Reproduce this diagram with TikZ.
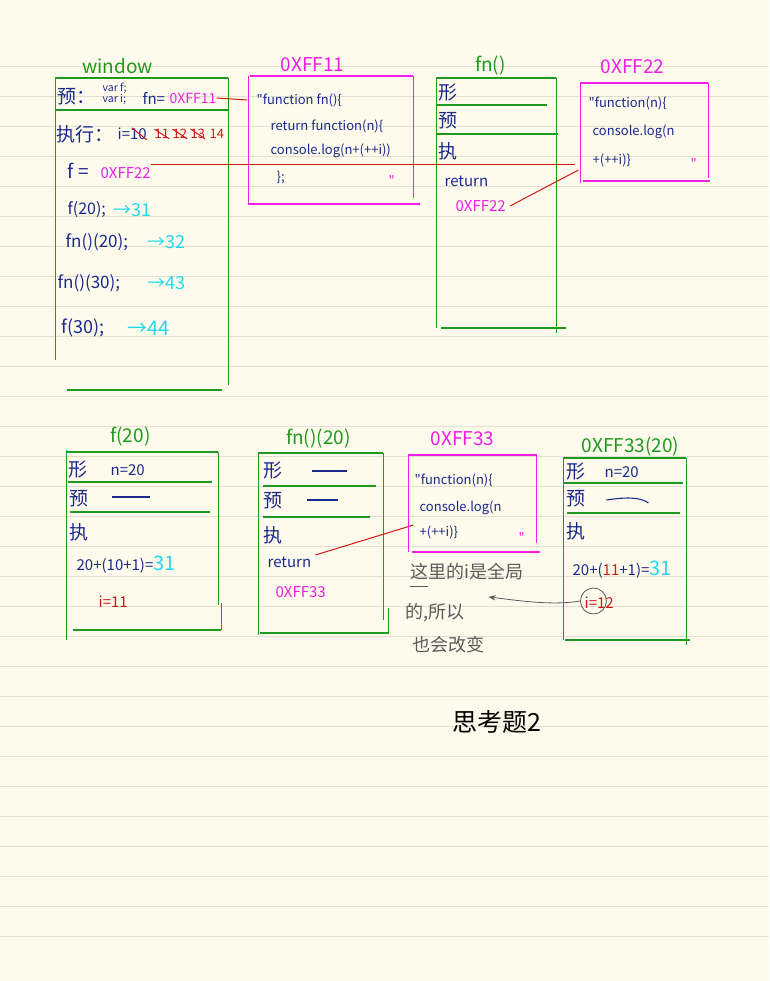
\documentclass[tikz,border=0pt]{standalone}
\usepackage{fontspec}
\setmainfont{Noto Sans CJK SC}[Ligatures=TeXOff]
\usepackage{tikz}
\usetikzlibrary{arrows.meta}
\definecolor{paper}{HTML}{FEFBEC}
\definecolor{rulecolor}{HTML}{E2DFD0}
\definecolor{inkblue}{HTML}{1A2A8C}
\definecolor{framegreen}{HTML}{1E9A1E}
\definecolor{heapmagenta}{HTML}{F01EE6}
\definecolor{linkred}{HTML}{D01818}
\definecolor{resultcyan}{HTML}{22D8EE}
\definecolor{notegray}{HTML}{5A5A5A}

\begin{document}
\begin{tikzpicture}[x=1pt, y=-1pt,
    txt/.style={anchor=west, inner sep=0pt, text=inkblue, font=\fontsize{15}{17}\selectfont},
    code/.style={txt, font=\fontsize{13}{15}\selectfont},
    cjk/.style={txt, font=\fontsize{19}{21}\selectfont},
    addr/.style={txt, text=heapmagenta},
    result/.style={txt, text=resultcyan, font=\fontsize{18}{20}\selectfont},
    title/.style={inner sep=0pt, font=\fontsize{19}{21}\selectfont},
    note/.style={txt, text=notegray, font=\fontsize{18}{20}\selectfont},
    frame/.style={draw=framegreen, line width=1.1pt},
    heap/.style={draw=heapmagenta, line width=1.1pt},
    link/.style={draw=linkred, line width=1pt},
    empty/.style={draw=inkblue, line width=1.1pt},
    pointer/.style={-{Stealth[length=2.5mm]}, draw=notegray, line width=0.8pt}
]
\fill[paper] (0,0) rectangle (769,981);
\foreach \y in {66,96,...,936}
  \draw[rulecolor, line width=0.9pt] (0,\y) -- (769,\y);

% window
\node[title, text=framegreen] (wtitle) at (117,66) {window};
\draw[frame] (55,78) -- (228,78) (55,110) -- (228,110) (67,390) -- (222,390)
  (55,78) -- (55,360) (228,78) -- (228,385);
\node[cjk] (wpre) at (57,97) {预：};
\node[txt, font=\fontsize{10.5}{10.5}\selectfont, align=left] (wvars) at (102,94) {var f;\\var i;};
\node[txt] (wfn) at (142,98) {fn=};
\node[addr, font=\fontsize{14}{16}\selectfont] (wfnaddr) at (169,98) {0XFF11};
\node[cjk] (wexec) at (56,134) {执行：};
\node[txt] (wi) at (117,134) {i=10};
\draw[link] (wi.north east) ++(-15,0) -- ++(15,12);
\node[txt, text=linkred, font=\fontsize{13}{15}\selectfont] (wc11) at (154,134) {11};
\node[txt, text=linkred, font=\fontsize{13}{15}\selectfont] (wc12) at (172,134) {12};
\node[txt, text=linkred, font=\fontsize{13}{15}\selectfont] (wc13) at (190,134) {13};
\node[txt, text=linkred, font=\fontsize{13}{15}\selectfont] (wc14) at (209,134) {14};
\draw[link] (wc11.north west) -- (wc11.south east) (wc12.north west) -- (wc12.south east)
  (wc13.north west) -- (wc13.south east);
\node[txt, font=\fontsize{19}{21}\selectfont] (wf) at (67,171) {f =};
\node[addr] (wfaddr) at (100,173) {0XFF22};
\node[txt, font=\fontsize{16}{18}\selectfont] (wcall1) at (67,210) {f(20);};
\node[result] (wres1) at (113,210) {→31};
\node[txt, font=\fontsize{17}{19}\selectfont] (wcall2) at (65,242) {fn()(20);};
\node[result] (wres2) at (147,242) {→32};
\node[txt, font=\fontsize{17}{19}\selectfont] (wcall3) at (57,283) {fn()(30);};
\node[result] (wres3) at (147,283) {→43};
\node[txt, font=\fontsize{18}{20}\selectfont] (wcall4) at (61,328) {f(30);};
\node[result, font=\fontsize{20}{22}\selectfont] (wres4) at (127,328) {→44};

% 0XFF11
\node[title, text=heapmagenta] (h11title) at (312,65) {0XFF11};
\draw[heap] (250,76) -- (413,76) (248,76) -- (248,205) (413,76) -- (413,198) (248,204) -- (420,204);
\node[code] (h11a) at (256,100) {"function fn()\{};
\node[code] (h11b) at (270,126) {return function(n)\{};
\node[code] (h11c) at (270,151) {console.log(n+(++i))};
\node[code] (h11d) at (276,178) {\};};
\node[code, text=heapmagenta] (h11q) at (388,180) {"};
\coordinate (h11in) at (247,100);

% fn()
\node[title, text=framegreen] (fntitle) at (490,66) {fn()};
\draw[frame] (436,78) -- (556,78) (436,77) -- (436,328) (556,78) -- (556,333)
  (436,105) -- (547,105) (436,134) -- (558,134) (441,328) -- (566,328);
\node[cjk] (fnarg) at (438,92) {形};
\node[cjk] (fnpre) at (438,121) {预};
\node[cjk] (fnexec) at (438,151) {执};
\node[txt] (fnret) at (444,181) {return};
\node[addr] (fnretaddr) at (455,206) {0XFF22};

% 0XFF22
\node[title, text=heapmagenta] (h22title) at (632,67) {0XFF22};
\draw[heap] (580,83) -- (708,83) (580,83) -- (580,183) (708,83) -- (708,178) (583,181) -- (710,181);
\node[code] (h22a) at (588,103) {"function(n)\{};
\node[code] (h22b) at (592,132) {console.log(n};
\node[code] (h22c) at (592,160) {+(++i)\}};
\node[code, text=heapmagenta] (h22q) at (690,163) {"};
\coordinate (h22in) at (575,165);
\coordinate (h22ret) at (578,170);

\draw[link] (wfnaddr.east) -- (h11in);
\draw[link] (wfaddr.east |- h22in) -- (h22in);
\draw[link] (fnretaddr.east) ++(4,0) -- (h22ret);

% f(20)
\node[title, text=framegreen] (f20title) at (130,437) {f(20)};
\draw[frame] (66,452) -- (218,452) (66,450) -- (66,640) (218,452) -- (218,605)
  (221,603) -- (221,630) (73,630) -- (221,630) (68,482) -- (212,482) (70,512) -- (210,512);
\node[cjk] (f20arg) at (68,469) {形};
\node[txt] (f20n) at (110,470) {n=20};
\node[cjk] (f20pre) at (69,499) {预};
\draw[empty] (112,497) -- (150,497);
\node[cjk] (f20exec) at (69,532) {执};
\node[txt] (f20calc) at (76,565) {20+(10+1)=\textcolor{resultcyan}{\fontsize{20}{22}\selectfont 31}};
\node[txt, text=linkred] (f20i) at (98,602) {i=11};

% fn()(20)
\node[title, text=framegreen] (fn20title) at (318,439) {fn()(20)};
\draw[frame] (258,453) -- (383,453) (258,452) -- (258,635) (383,453) -- (383,620)
  (388,608) -- (388,633) (260,633) -- (389,633) (263,486) -- (376,486) (263,517) -- (370,517);
\node[cjk] (fn20arg) at (263,470) {形};
\draw[empty] (312,471) -- (347,471);
\node[cjk] (fn20pre) at (263,501) {预};
\draw[empty] (307,500) -- (338,500);
\node[cjk] (fn20exec) at (263,535) {执};
\node[txt] (fn20ret) at (267,562) {return};
\node[addr] (fn20retaddr) at (275,592) {0XFF33};
\coordinate (h33ret) at (413,525);
\draw[link] (fn20ret.east) ++(4,-7) -- (h33ret);

% 0XFF33
\node[title, text=heapmagenta] (h33title) at (462,439) {0XFF33};
\draw[heap] (408,455) -- (537,455) (408,455) -- (408,552) (536,455) -- (536,543) (412,552) -- (540,552);
\node[code] (h33a) at (414,480) {"function(n)\{};
\node[code] (h33b) at (419,508) {console.log(n};
\node[code] (h33c) at (419,532) {+(++i)\}};
\node[code, text=heapmagenta] (h33q) at (518,537) {"};

\node[note] (note1) at (410,572) {这里的i是全局};
\draw[notegray, line width=0.8pt] (410,586) -- (428,586);
\node[note] (note2) at (405,613) {的,所以};
\node[note] (note3) at (412,645) {也会改变};

% 0XFF33(20)
\node[title, text=framegreen] (r20title) at (630,447) {0XFF33(20)};
\draw[frame] (563,458) -- (686,458) (563,458) -- (563,640) (686,458) -- (686,645)
  (563,483) -- (683,483) (567,513) -- (680,513) (565,640) -- (690,640);
\node[cjk] (r20arg) at (566,471) {形};
\node[txt] (r20n) at (604,472) {n=20};
\node[cjk] (r20pre) at (566,499) {预};
\draw[empty] (606,500) .. controls (625,497) and (640,497) .. (648,503);
\node[cjk] (r20exec) at (566,531) {执};
\node[txt] (r20calc) at (572,570) {20+(\textcolor{linkred}{11}+1)=\textcolor{resultcyan}{\fontsize{20}{22}\selectfont 31}};
\node[txt, text=linkred] (r20i) at (584,603) {i=12};
\node[circle, draw=notegray, line width=0.8pt, minimum size=26pt, inner sep=0pt] (r20circle) at (593,601) {};
\coordinate (notetip) at (488,597);
\draw[pointer] (r20circle.west) .. controls (550,606) and (515,600) .. (notetip);

\node[txt, text=black, font=\fontsize{25}{28}\selectfont] (task) at (452,722) {思考题2};
\end{tikzpicture}
\end{document}
